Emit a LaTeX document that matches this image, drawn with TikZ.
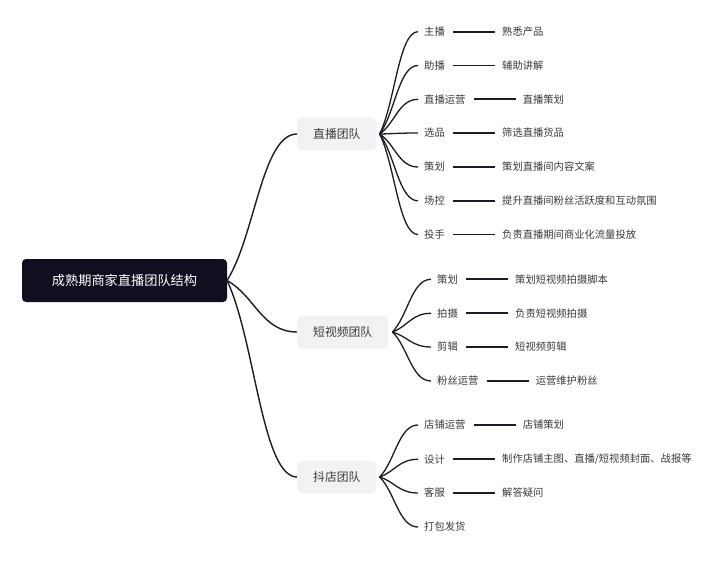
\documentclass[tikz,border=0pt]{standalone}
\usepackage{fontspec}
\setmainfont{Noto Sans CJK SC}
\usetikzlibrary{calc}
\definecolor{rootfill}{HTML}{120E1F}
\definecolor{teamfill}{HTML}{F2F2F5}
\definecolor{linkc}{HTML}{1C1B26}
\definecolor{txt}{HTML}{3A3A3A}
\tikzset{
  rootbox/.style={fill=rootfill, rounded corners=4pt, text=white, font=\fontsize{13.2}{15}\selectfont,
    minimum width=205pt, minimum height=43pt, inner sep=0pt},
  teambox/.style={fill=teamfill, rounded corners=5pt, text=txt, font=\fontsize{11.8}{14}\selectfont,
    inner xsep=16pt, minimum height=33pt, inner ysep=0pt},
  itembox/.style={anchor=west, text=txt, font=\fontsize{10.3}{12}\selectfont, inner xsep=6pt, inner ysep=2pt},
  detailbox/.style={anchor=west, text=txt, font=\fontsize{10.3}{12}\selectfont, inner xsep=7pt, inner ysep=2pt},
  link1/.style={draw=linkc, line width=1.4pt},
  link2/.style={draw=linkc, line width=1.3pt},
  dashlink/.style={draw=linkc, line width=1.9pt, shorten <=2pt},
}
\newcommand\mmcurve[3]{%
  \draw[#1] let \p1=(#2), \p2=(#3) in (\p1) .. controls ({\x1+0.4*(\x2-\x1)},{\y1+0.3*(\y2-\y1)}) and ({\x1+0.5*(\x2-\x1)},\y2) .. (\p2);}
\begin{document}
\begin{tikzpicture}[x=1pt,y=-1pt]
\useasboundingbox (0,0) rectangle (720,562);
\fill[white] (0,0) rectangle (720,562);

\node[rootbox] (root) at (124.5,280.5) {成熟期商家直播团队结构};
\coordinate (rootout) at (227,280.5);

\node[teambox, anchor=west] (t1) at (297,134) {直播团队};
\node[teambox, anchor=west] (t2) at (297,332) {短视频团队};
\node[teambox, anchor=west] (t3) at (297,477) {抖店团队};

\coordinate (t1o) at ($(t1.east)+(3,0)$);
\coordinate (t2o) at ($(t2.east)+(4,0)$);
\coordinate (t3o) at ($(t3.east)+(3,0)$);

\mmcurve{link1}{rootout}{t1.west}
\mmcurve{link1}{rootout}{t2.west}
\mmcurve{link1}{rootout}{t3.west}

% team 1
\foreach \k/\yy/\ta/\tb in {a/31.7/主播/熟悉产品, b/65.5/助播/辅助讲解, c/99.3/直播运营/直播策划, d/133/选品/筛选直播货品, e/167/策划/策划直播间内容文案, f/200.8/场控/提升直播间粉丝活跃度和互动氛围, g/234.5/投手/负责直播期间商业化流量投放}{
  \node[itembox] (i1\k) at (418,\yy) {\ta};
  \node[detailbox] (d1\k) at ($(i1\k.east)+(44,0)$) {\tb};
  \mmcurve{link2}{t1o}{i1\k.west}
  \draw[dashlink] (i1\k.east) -- (d1\k.west);
}

% team 2
\foreach \k/\yy/\ta/\tb in {a/279.3/策划/策划短视频拍摄脚本, b/313.3/拍摄/负责短视频拍摄, c/347/剪辑/短视频剪辑, d/381/粉丝运营/运营维护粉丝}{
  \node[itembox] (i2\k) at (431,\yy) {\ta};
  \node[detailbox] (d2\k) at ($(i2\k.east)+(44,0)$) {\tb};
  \mmcurve{link2}{t2o}{i2\k.west}
  \draw[dashlink] (i2\k.east) -- (d2\k.west);
}

% team 3
\foreach \k/\yy/\ta/\tb in {a/425/店铺运营/店铺策划, b/459.3/设计/{制作店铺主图、直播/短视频封面、战报等}, c/493/客服/解答疑问}{
  \node[itembox] (i3\k) at (418,\yy) {\ta};
  \node[detailbox] (d3\k) at ($(i3\k.east)+(44,0)$) {\tb};
  \mmcurve{link2}{t3o}{i3\k.west}
  \draw[dashlink] (i3\k.east) -- (d3\k.west);
}
\node[itembox] (i3d) at (418,527) {打包发货};
\mmcurve{link2}{t3o}{i3d.west}
\end{tikzpicture}
\end{document}
